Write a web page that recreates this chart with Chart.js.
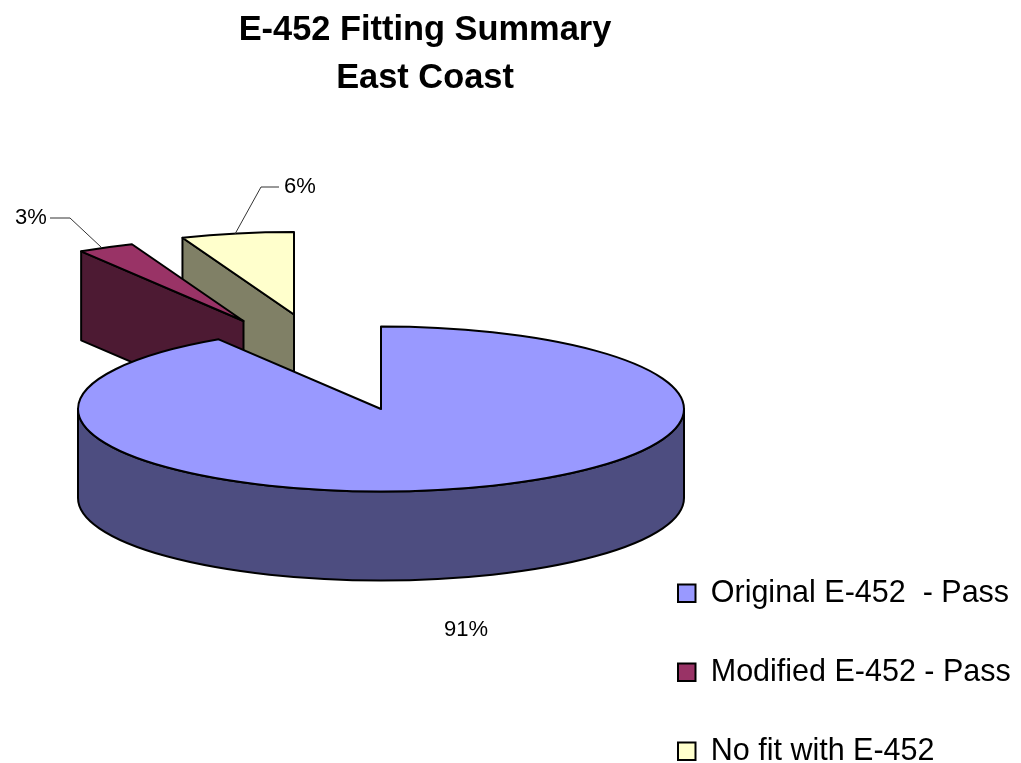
<!DOCTYPE html>
<html>
<head>
<meta charset="utf-8">
<title>E-452 Fitting Summary</title>
<script src="https://cdn.jsdelivr.net/npm/chart.js@4"></script>
<style>
  html, body { margin: 0; padding: 0; background: #fff; }
  canvas { display: block; }
</style>
</head>
<body>
<canvas id="pieChart" width="1021" height="763"></canvas>
<script>
// ============================================================
// Data
// ============================================================

const titleLines = ['E-452 Fitting Summary', 'East Coast'];
const categories = ['Original E-452  - Pass', 'Modified E-452 - Pass', 'No fit with E-452'];
const shares = [91, 3, 6];

// ============================================================
// Look of the 3D pie
// ============================================================

const FONT = "'Liberation Sans', Arial, sans-serif";
const topColors = ['#9999ff', '#993366', '#ffffcc'];
const wallColors = ['#4d4d80', '#4d1a33', '#808066'];

const SQUASH = 82.5 / 303;   // height / width of the pie ellipse
const DEPTH = 89;            // wall height in px
const EDGE = 2;              // outline width

// how far each slice is pulled out of the chart centre (px)
const explodeX = [0, -137.5, -87];
const explodeY = [-25.5, -113.5, -120];

// percent labels: text position, then the leader line when there is one
const labelAt = [
  { x: 466, y: 630, line: null },
  { x: 31, y: 218, line: [[50, 218], [70, 218], [101, 247]] },
  { x: 300, y: 187, line: [[279, 187], [261, 187], [235, 234]] }
];

// ============================================================
// Plugin: squash the library's arcs and give them walls
// ============================================================

function drawWalls(ctx, arc, i, ox, oy) {
  const r = arc.outerRadius;
  const ry = r * SQUASH;
  const a0 = arc.startAngle;
  const a1 = arc.endAngle;
  const cx = arc.x + ox;
  const cy = arc.y + oy;

  ctx.fillStyle = wallColors[i];
  ctx.strokeStyle = '#000';
  ctx.lineWidth = EDGE;
  ctx.lineJoin = 'round';

  // cut faces, only the ones turned towards the viewer
  [[a0, a0 - Math.PI / 2], [a1, a1 + Math.PI / 2]].forEach(([a, normal]) => {
    if (Math.sin(normal) < 0.01) return;
    const ex = cx + Math.cos(a) * r;
    const ey = cy + Math.sin(a) * ry;
    ctx.beginPath();
    ctx.moveTo(cx, cy);
    ctx.lineTo(ex, ey);
    ctx.lineTo(ex, ey + DEPTH);
    ctx.lineTo(cx, cy + DEPTH);
    ctx.closePath();
    ctx.fill();
    ctx.stroke();
  });

  // outer wall, the part of the rim on the near side
  for (let k = -1; k <= 1; k++) {
    const from = Math.max(a0, k * 2 * Math.PI);
    const to = Math.min(a1, k * 2 * Math.PI + Math.PI);
    if (to <= from) continue;
    ctx.beginPath();
    ctx.ellipse(cx, cy, r, ry, 0, from, to);
    ctx.ellipse(cx, cy + DEPTH, r, ry, 0, to, from, true);
    ctx.closePath();
    ctx.fill();
    ctx.stroke();
  }
}

function drawTop(ctx, arc, ox, oy) {
  const r = arc.outerRadius;
  const cx = arc.x + ox;
  const cy = arc.y + oy;

  ctx.save();
  ctx.translate(cx, cy);
  ctx.scale(1, SQUASH);
  ctx.translate(-arc.x, -arc.y);
  arc.draw(ctx);
  ctx.restore();

  ctx.strokeStyle = '#000';
  ctx.lineWidth = EDGE;
  ctx.lineJoin = 'round';
  ctx.beginPath();
  ctx.moveTo(cx, cy);
  ctx.ellipse(cx, cy, r, r * SQUASH, 0, arc.startAngle, arc.endAngle);
  ctx.closePath();
  ctx.stroke();
}

const pie3d = {
  id: 'pie3d',
  afterLayout(chart) {
    // title sits over the plot and legend together, left of canvas centre
    chart.titleBlock.left = 0;
    chart.titleBlock.right = 850;

    // legend floats bottom right, its rows run close to the canvas edge
    const legend = chart.legend;
    legend.left = 678 - legend.options.labels.padding;
    legend.right = 1021;
    legend.bottom = 815;
  },
  beforeDatasetDraw(chart, args) {
    const ctx = chart.ctx;
    const arcs = args.meta.data;
    // back slices first, the big one goes over them
    for (let i = arcs.length - 1; i >= 0; i--) {
      drawWalls(ctx, arcs[i], i, explodeX[i], explodeY[i]);
      drawTop(ctx, arcs[i], explodeX[i], explodeY[i]);
    }
    return false;
  },
  afterDatasetsDraw(chart) {
    const ctx = chart.ctx;
    const total = shares.reduce((a, b) => a + b, 0);
    ctx.save();
    ctx.fillStyle = '#000';
    ctx.font = '22px ' + FONT;
    ctx.textAlign = 'center';
    ctx.textBaseline = 'middle';
    shares.forEach((v, i) => {
      const lab = labelAt[i];
      ctx.fillText(Math.round(v / total * 100) + '%', lab.x, lab.y);
      if (lab.line) {
        ctx.strokeStyle = '#333';
        ctx.lineWidth = 1;
        ctx.beginPath();
        lab.line.forEach(([x, y], k) => (k ? ctx.lineTo(x, y) : ctx.moveTo(x, y)));
        ctx.stroke();
      }
    });
    ctx.restore();
  }
};

// ============================================================
// Chart
// ============================================================

new Chart(document.getElementById('pieChart'), {
  type: 'pie',
  data: {
    labels: categories,
    datasets: [{
      data: shares,
      backgroundColor: topColors,
      borderColor: '#000',
      borderWidth: 0
    }]
  },
  options: {
    responsive: false,
    animation: false,
    layout: { padding: { left: 78, right: 337 } },
    plugins: {
      title: {
        display: true,
        text: titleLines,
        color: '#000',
        font: { family: FONT, size: 34.4, weight: 'bold', lineHeight: 1.395 },
        padding: { top: 7, bottom: 3 }
      },
      legend: {
        position: 'chartArea',
        align: 'end',
        labels: {
          color: '#000',
          font: { family: FONT, size: 30.5 },
          boxWidth: 17.5,
          boxHeight: 17.5,
          padding: 48.5,
          generateLabels(chart) {
            return categories.map((text, i) => ({
              text,
              fillStyle: topColors[i],
              strokeStyle: '#000',
              lineWidth: EDGE,
              index: i
            }));
          }
        }
      },
      tooltip: { enabled: false }
    }
  },
  plugins: [pie3d]
});
</script>
</body>
</html>
